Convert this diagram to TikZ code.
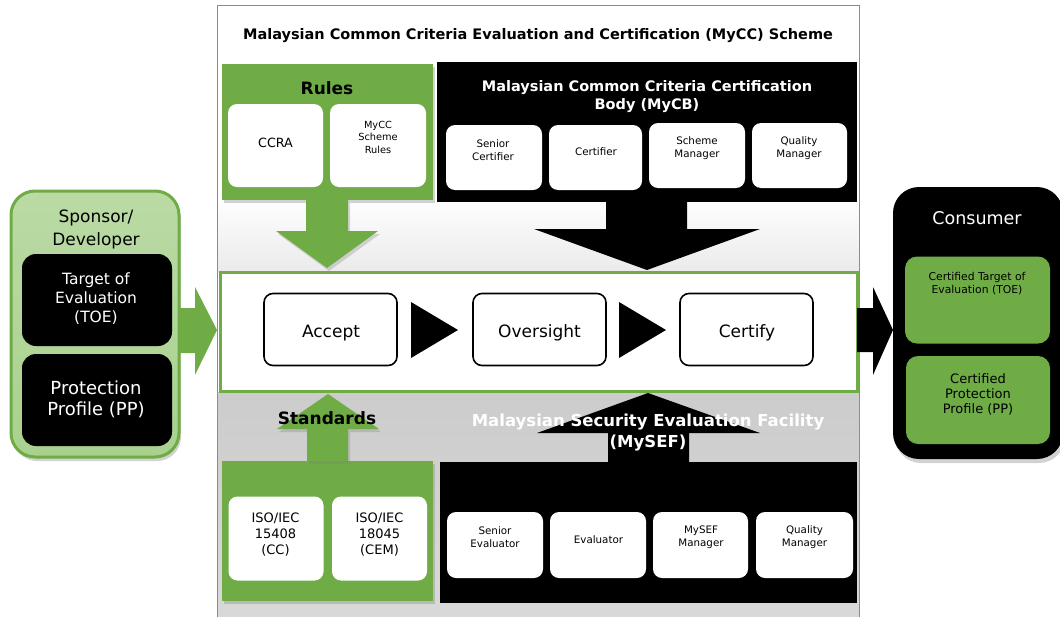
\documentclass[tikz,border=0pt]{standalone}
\usepackage{fontspec}
\setmainfont{DejaVu Sans}
\usetikzlibrary{shadows}
\definecolor{grn}{HTML}{6FAC46}
\definecolor{lgrn}{HTML}{A9D18E}
\definecolor{frame}{HTML}{8C8C8C}
\newcommand\myfs[2]{\fontsize{#1}{#2}\selectfont}
\tikzset{
  fs/.style 2 args={font=\myfs{#1}{#2}},
  bfs/.style 2 args={font=\bfseries\myfs{#1}{#2}},
  box/.style={inner sep=0pt, outer sep=0pt, align=center},
  txt/.style={inner sep=0pt, outer sep=0pt, align=center},
  wbox/.style={box, fill=white, rounded corners=9pt},
  small/.style={txt, fs={10.3}{13}},
  gbox/.style={box, fill=grn, drop shadow={opacity=0.35, shadow xshift=2pt, shadow yshift=-3pt}},
  kbox/.style={box, fill=black},
  procbox/.style={box, draw=black, line width=1.6pt, fill=white, rounded corners=9pt, minimum width=133, minimum height=72},
  proctxt/.style={txt, fs={17}{20}},
}
\begin{document}
\begin{tikzpicture}[x=1pt,y=-1pt]
\useasboundingbox (0,0) rectangle (1060,616);
\fill[white] (0,0) rectangle (1060,616);

% ---------- main scheme frame and backgrounds ----------
\shade[top color=white, bottom color=gray!16] (218,195) rectangle (859,272);
\shade[top color=gray!40, bottom color=gray!30] (218,392) rectangle (859,620);
\draw[frame, line width=1.6pt] (217.5,5.5) rectangle (859.5,625);

\node[txt, bfs={14.5}{17}] (title) at (538,36)
  {Malaysian Common Criteria Evaluation and Certification (MyCC) Scheme};

% ---------- Rules ----------
\node[gbox, minimum width=211, minimum height=136] (rules) at (327.5,132) {};
\node[txt, bfs={17}{20}] (rulesT) at (327,88) {Rules};
\node[wbox, minimum width=95, minimum height=83] (ccra) at (275.5,145.5) {};
\node[txt, fs={12.7}{15}] (ccraT) at (275.5,143) {CCRA};
\node[wbox, minimum width=96, minimum height=83] (mycc) at (378,145.5) {};
\node[txt, fs={9.8}{12.5}] (myccT) at (378,137) {MyCC\\Scheme\\Rules};
\coordinate (rulesTip) at (327,268);
\fill[grn, drop shadow={opacity=0.3, shadow xshift=2pt, shadow yshift=-3pt}]
  (306,200) -- (306,231) -- (276,231) -- (rulesTip) -- (378,231) -- (348,231) -- (348,200) -- cycle;

% ---------- MyCB ----------
\node[kbox, minimum width=420, minimum height=140] (mycb) at (647,132) {};
\node[txt, text=white, bfs={14.5}{18}] (mycbT) at (647,97)
  {Malaysian Common Criteria Certification\\Body (MyCB)};
\node[wbox, minimum width=96, minimum height=65] (sc) at (494,157.5) {};
\node[small] (scT) at (493,150.5) {Senior\\Certifier};
\node[wbox, minimum width=93, minimum height=65] (cert) at (595.5,157.5) {};
\node[small] (certT) at (596,152) {Certifier};
\node[wbox, minimum width=96, minimum height=65] (sm) at (697,155.5) {};
\node[small] (smT) at (697,148.5) {Scheme\\Manager};
\node[wbox, minimum width=95, minimum height=65] (qm1) at (799.5,155.5) {};
\node[small] (qm1T) at (799,148.5) {Quality\\Manager};
\coordinate (mycbTip) at (647,270);
\fill[black] (606,202) -- (606,229) -- (534,229) -- (mycbTip) -- (760,229) -- (687,229) -- (687,202) -- cycle;

% ---------- Standards ----------
\node[gbox, minimum width=211, minimum height=140] (std) at (327.5,531) {};
\coordinate (stdTip) at (328,394);
\fill[grn, drop shadow={opacity=0.3, shadow xshift=2pt, shadow yshift=-3pt}]
  (307,461) -- (307,429) -- (277,429) -- (stdTip) -- (379,429) -- (348,429) -- (348,461) -- cycle;
\node[txt, bfs={17}{20}] (stdT) at (327,418) {Standards};
\node[wbox, minimum width=95, minimum height=84] (iso1) at (276,538.5) {};
\node[txt, fs={13}{16}] (iso1T) at (275.5,535) {ISO/IEC\\15408\\(CC)};
\node[wbox, minimum width=95, minimum height=84] (iso2) at (379.5,538.5) {};
\node[txt, fs={13}{16}] (iso2T) at (379.5,535) {ISO/IEC\\18045\\(CEM)};

% ---------- MySEF ----------
\node[kbox, minimum width=417, minimum height=141] (mysef) at (648.5,532) {};
\coordinate (mysefTip) at (648,393);
\fill[black] (608,462) -- (608,433) -- (537,433) -- (mysefTip) -- (760,433) -- (689,433) -- (689,462) -- cycle;
\node[txt, text=white, bfs={16.5}{21}] (mysefT) at (648,432.5)
  {Malaysian Security Evaluation Facility\\(MySEF)};
\node[wbox, minimum width=96, minimum height=66] (se) at (495,545) {};
\node[small] (seT) at (495,537.5) {Senior\\Evaluator};
\node[wbox, minimum width=96, minimum height=66] (ev) at (598,545) {};
\node[small] (evT) at (598.5,540) {Evaluator};
\node[wbox, minimum width=95, minimum height=66] (mm) at (700.5,545) {};
\node[small] (mmT) at (701,537.5) {MySEF\\Manager};
\node[wbox, minimum width=97, minimum height=66] (qm2) at (804.5,545) {};
\node[small] (qm2T) at (804.5,537.5) {Quality\\Manager};

% ---------- process box ----------
\node[box, draw=grn, line width=3pt, fill=white, minimum width=637, minimum height=119] (proc) at (539,332) {};
\node[procbox] (accept) at (330.5,329.5) {};
\node[proctxt] (acceptT) at (331,333) {Accept};
\node[procbox] (over) at (539.5,329.5) {};
\node[proctxt] (overT) at (539.5,333) {Oversight};
\node[procbox] (certify) at (746.5,329.5) {};
\node[proctxt] (certifyT) at (747,333) {Certify};
\fill[black] (411,302) -- (458,330) -- (411,358) -- cycle;
\fill[black] (619,302) -- (666,330) -- (619,358) -- cycle;

% ---------- Sponsor / Developer ----------
\node[box, draw=grn, line width=3pt, top color=lgrn!80!white, bottom color=lgrn, rounded corners=24pt, minimum width=168, minimum height=266,
      drop shadow={opacity=0.35, shadow xshift=2pt, shadow yshift=-4pt}] (sponsor) at (95,324) {};
\node[txt, fs={17}{23}] (sponsorT) at (96,229.5) {Sponsor/\\Developer};
\node[box, fill=black, rounded corners=14pt, minimum width=150, minimum height=92] (toe) at (97,300) {};
\node[txt, text=white, fs={15.5}{19}] (toeT) at (96,299) {Target of\\Evaluation\\(TOE)};
\node[box, fill=black, rounded corners=14pt, minimum width=150, minimum height=92] (pp) at (97,400) {};
\node[txt, text=white, fs={18}{21}] (ppT) at (96,399.5) {Protection\\Profile (PP)};
\coordinate (leftTip) at (217,330);
\fill[grn] (180,308) -- (195,308) -- (195,287) -- (leftTip) -- (195,375) -- (195,353) -- (180,353) -- cycle;

% ---------- Consumer ----------
\node[box, fill=black, rounded corners=26pt, minimum width=170, minimum height=272,
      drop shadow={opacity=0.35, shadow xshift=2pt, shadow yshift=-4pt}] (cons) at (978,323) {};
\node[txt, text=white, fs={17.5}{20}] (consT) at (977,218) {Consumer};
\node[box, fill=grn, rounded corners=12pt, minimum width=145, minimum height=87] (ctoe) at (977.5,300) {};
\node[txt, fs={10.8}{13}] (ctoeT) at (977,283.5) {Certified Target of\\Evaluation (TOE)};
\node[box, fill=grn, rounded corners=12pt, minimum width=144, minimum height=88] (cpp) at (978,400) {};
\node[txt, fs={13}{15}] (cppT) at (978,394) {Certified\\Protection\\Profile (PP)};
\coordinate (rightTip) at (893,330);
\fill[black] (857,308) -- (873,308) -- (873,287) -- (rightTip) -- (873,375) -- (873,352) -- (857,352) -- cycle;
\end{tikzpicture}
\end{document}
